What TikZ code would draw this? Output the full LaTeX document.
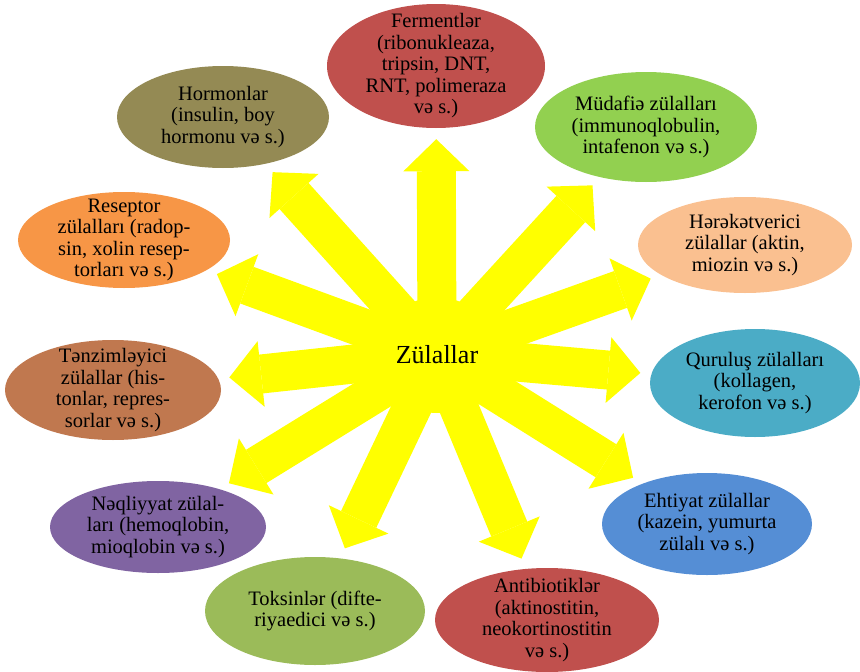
\documentclass[tikz,border=0pt]{standalone}
\usepackage{fontspec}
\setmainfont{Liberation Serif}
\usepackage{xcolor}
\usetikzlibrary{arrows.meta,shapes.geometric,backgrounds}
\definecolor{sun}{HTML}{FFFF00}
\definecolor{brick}{HTML}{C0504D}
\definecolor{khaki}{HTML}{948A54}
\definecolor{leaf}{HTML}{92D050}
\definecolor{peach}{HTML}{FAC090}
\definecolor{lagoon}{HTML}{4BACC6}
\definecolor{tangerine}{HTML}{F79646}
\definecolor{clay}{HTML}{C0784F}
\definecolor{plum}{HTML}{8064A2}
\definecolor{moss}{HTML}{9BBB59}
\definecolor{sky}{HTML}{558ED5}
\tikzset{
  bubble/.style={ellipse,inner sep=0,draw=none},
  bubbletext/.style={align=center,inner sep=0,text=black,
                     font=\fontsize{20.5}{21.5}\selectfont},
  hubnode/.style={circle,fill=sun,minimum size=116pt,inner sep=0,
                  text=black,font=\fontsize{26}{30}\selectfont},
  spoke/.style={draw=sun,line width=39pt,shorten >=11pt,shorten <=-8pt,
                -{Triangle[length=32pt,width=66pt,line width=0pt]}}
}
\begin{document}
\begin{tikzpicture}[x=1pt,y=-1pt]
  \useasboundingbox (0,0) rectangle (860,672);
  \node[hubnode] (hub) at (437,355) {Zülallar};

  \node[bubble,fill=brick,minimum width=218pt,minimum height=124pt] (ferm) at (436,66) {};
  \node[bubble,fill=khaki,minimum width=212pt,minimum height=102pt] (horm) at (223,117) {};
  \node[bubble,fill=leaf,minimum width=222pt,minimum height=110pt] (mud) at (646,127) {};
  \node[bubble,fill=peach,minimum width=214pt,minimum height=96pt] (her) at (745,245) {};
  \node[bubble,fill=lagoon,minimum width=210pt,minimum height=108pt] (qur) at (755,383) {};
  \node[bubble,fill=tangerine,minimum width=212pt,minimum height=96pt] (res) at (124,240) {};
  \node[bubble,fill=clay,minimum width=216pt,minimum height=100pt] (ten) at (113,390) {};
  \node[bubble,fill=plum,minimum width=216pt,minimum height=92pt] (neq) at (158,527) {};
  \node[bubble,fill=moss,minimum width=220pt,minimum height=108pt] (tok) at (315,611) {};
  \node[bubble,fill=brick,minimum width=224pt,minimum height=104pt] (ant) at (547,620) {};
  \node[bubble,fill=sky,minimum width=210pt,minimum height=102pt] (eht) at (707,524) {};

  \node[bubbletext] (fermT) at (ferm) {Fermentlər\\(ribonukleaza,\\tripsin, DNT,\\RNT, polimeraza\\və s.)};
  \node[bubbletext] (hormT) at (horm) {Hormonlar\\(insulin, boy\\hormonu və s.)};
  \node[bubbletext] (mudT) at (mud) {Müdafiə zülalları\\(immunoqlobulin,\\intafenon və s.)};
  \node[bubbletext] (herT) at (her) {Hərəkətverici\\zülallar (aktin,\\miozin və s.)};
  \node[bubbletext] (qurT) at (qur) {Quruluş zülalları\\(kollagen,\\kerofon və s.)};
  \node[bubbletext] (resT) at (res) {Reseptor\\zülalları (radop-\\sin, xolin resep-\\torları və s.)};
  \node[bubbletext] (tenT) at (ten) {Tənzimləyici\\zülallar (his-\\tonlar, repres-\\sorlar və s.)};
  \node[bubbletext] (neqT) at (neq) {Nəqliyyat zülal-\\ları (hemoqlobin,\\mioqlobin və s.)};
  \node[bubbletext] (tokT) at (tok) {Toksinlər (difte-\\riyaedici və s.)};
  \node[bubbletext] (antT) at (ant) {Antibiotiklər\\(aktinostitin,\\neokortinostitin\\və s.)};
  \node[bubbletext] (ehtT) at (eht) {Ehtiyat zülallar\\(kazein, yumurta\\zülalı və s.)};

  \begin{scope}[on background layer]
    \foreach \e in {ferm,horm,mud,her,qur,res,ten,neq,tok,ant,eht}
      \draw[spoke] (hub) -- (\e);
  \end{scope}
\end{tikzpicture}
\end{document}
